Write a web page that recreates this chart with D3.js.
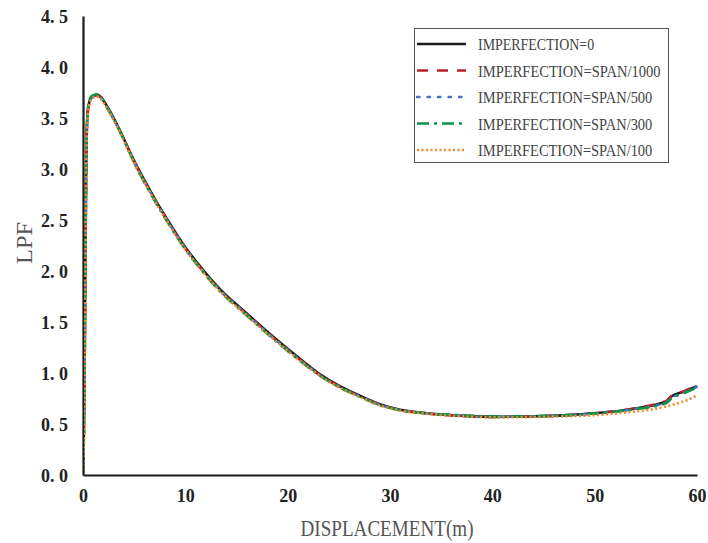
<!DOCTYPE html>
<html>
<head>
<meta charset="utf-8">
<script src="https://cdn.jsdelivr.net/npm/d3@7"></script>
<style>
  html, body { margin: 0; padding: 0; background: #fff; }
  svg { display: block; }
</style>
</head>
<body>
<svg id="chart" width="708" height="543"></svg>
<script>
// Load-proportionality factor vs. displacement for five imperfection levels
const seriesNames = [
  "IMPERFECTION=0",
  "IMPERFECTION=SPAN/1000",
  "IMPERFECTION=SPAN/500",
  "IMPERFECTION=SPAN/300",
  "IMPERFECTION=SPAN/100"
];

// Displacement stations (m) shared by all five runs
const displacement = [0, 0.08, 0.15, 0.2, 0.25, 0.3, 0.36, 0.45, 0.6, 0.8,
  1.3, 1.8, 2.2, 3.0, 3.6, 4.3, 5.0, 6.0, 7.0, 8.2,
  9.6, 11.4, 13.4, 15.7, 18.3, 21.2, 23.2, 25.1, 27.1, 29.0,
  31.0, 33.6, 37.2, 40.4, 43.7, 47, 50.5, 52.5, 54.4, 55.4,
  56.7, 57.0, 57.5, 58.8, 60];

const lpfPerfect = [0, 0.4, 1.0, 1.6, 2.3, 2.9, 3.35, 3.55, 3.65, 3.70,
  3.73, 3.70, 3.64, 3.50, 3.38, 3.23, 3.08, 2.89, 2.71, 2.51,
  2.29, 2.05, 1.82, 1.61, 1.38, 1.14, 0.985, 0.87, 0.775, 0.695,
  0.64, 0.605, 0.58, 0.57, 0.575, 0.585, 0.61, 0.63, 0.66, 0.676,
  0.71, 0.72, 0.77, 0.82, 0.87];

const lpf1000 = [0, 0.38, 0.98, 1.58, 2.28, 2.88, 3.33, 3.54, 3.64, 3.70,
  3.72, 3.70, 3.63, 3.49, 3.37, 3.22, 3.07, 2.88, 2.70, 2.50,
  2.28, 2.04, 1.81, 1.60, 1.37, 1.13, 0.975, 0.865, 0.77, 0.69,
  0.637, 0.603, 0.58, 0.57, 0.575, 0.585, 0.61, 0.632, 0.662, 0.68,
  0.715, 0.725, 0.775, 0.825, 0.88];

const lpf500 = [0, 0.36, 0.95, 1.55, 2.25, 2.86, 3.32, 3.54, 3.64, 3.69,
  3.72, 3.69, 3.63, 3.49, 3.37, 3.22, 3.07, 2.88, 2.70, 2.50,
  2.28, 2.04, 1.81, 1.60, 1.37, 1.13, 0.975, 0.862, 0.768, 0.688,
  0.636, 0.603, 0.58, 0.571, 0.576, 0.585, 0.608, 0.628, 0.655, 0.67,
  0.70, 0.71, 0.755, 0.81, 0.865];

const lpf300 = [0, 0.35, 0.93, 1.52, 2.22, 2.84, 3.32, 3.55, 3.66, 3.71,
  3.73, 3.70, 3.63, 3.49, 3.37, 3.22, 3.06, 2.87, 2.69, 2.49,
  2.27, 2.03, 1.80, 1.59, 1.36, 1.12, 0.97, 0.858, 0.765, 0.685,
  0.635, 0.605, 0.585, 0.573, 0.576, 0.585, 0.607, 0.625, 0.65, 0.665,
  0.695, 0.705, 0.75, 0.805, 0.86];

const lpf100 = [0, 0.32, 0.9, 1.5, 2.2, 2.82, 3.30, 3.52, 3.62, 3.68,
  3.71, 3.68, 3.62, 3.48, 3.36, 3.21, 3.06, 2.87, 2.69, 2.49,
  2.27, 2.03, 1.80, 1.59, 1.36, 1.12, 0.968, 0.855, 0.762, 0.682,
  0.632, 0.60, 0.575, 0.565, 0.568, 0.575, 0.59, 0.608, 0.628, 0.64,
  0.665, 0.672, 0.685, 0.725, 0.78];

const xTicks = [0, 10, 20, 30, 40, 50, 60];
const yTicks = [0, 0.5, 1.0, 1.5, 2.0, 2.5, 3.0, 3.5, 4.0, 4.5];

const seriesColors = ["#1a1a1a", "#b81f24", "#4472c4", "#0a9447", "#f08a2c"];
const seriesDash   = [null, "11,9", "2.5,8", "12,5,3,5", "2,2.5"];

const seriesData = [lpfPerfect, lpf1000, lpf500, lpf300, lpf100]
  .map(vals => d3.zip(displacement, vals));

const svg = d3.select("#chart");
const margin = { left: 83, right: 11, top: 16, bottom: 68 };
const W = 708, H = 543;

const x = d3.scaleLinear().domain([0, 60]).range([margin.left, W - margin.right]);
const y = d3.scaleLinear().domain([0, 4.5]).range([H - margin.bottom, margin.top]);

const serif = "'Liberation Serif', 'DejaVu Serif', serif";

// Axes: plain lines, no tick marks
const xAxis = d3.axisBottom(x).tickValues(xTicks).tickSize(0).tickPadding(14)
  .tickFormat(d3.format("d"));
const yAxis = d3.axisLeft(y).tickValues(yTicks).tickSize(0).tickPadding(15)
  .tickFormat(d => d.toFixed(1).replace(".", ". "));

const gx = svg.append("g").attr("transform", `translate(0,${y(0)})`).call(xAxis);
const gy = svg.append("g").attr("transform", `translate(${x(0)},0)`).call(yAxis);

[gx, gy].forEach(g => {
  g.select(".domain").attr("stroke", "#1a1a1a").attr("stroke-width", 2.2);
  g.selectAll("text")
    .attr("font-family", serif)
    .attr("font-weight", "bold")
    .attr("font-size", 18)
    .attr("fill", "#222");
});
gy.selectAll("text").attr("dy", "0.36em");

// Curves
const line = d3.line()
  .x(d => x(d[0]))
  .y(d => y(d[1]))
  .curve(d3.curveMonotoneX);

svg.append("defs").append("clipPath").attr("id", "plotClip")
  .append("rect")
  .attr("x", x(0) + 1).attr("y", margin.top - 5)
  .attr("width", x(60) - x(0) + 4).attr("height", y(0) - margin.top + 4);

const plot = svg.append("g").attr("clip-path", "url(#plotClip)");
seriesData.forEach((data, i) => {
  plot.append("path")
    .datum(data)
    .attr("fill", "none")
    .attr("stroke", seriesColors[i])
    .attr("stroke-width", 2.6)
    .attr("stroke-dasharray", seriesDash[i])
    .attr("stroke-linecap", i === 2 ? "round" : "butt")
    .attr("d", line);
});

// Axis titles
svg.append("text")
  .attr("x", 387).attr("y", 536)
  .attr("text-anchor", "middle")
  .attr("font-family", serif)
  .attr("font-size", 24)
  .attr("fill", "#555")
  .attr("textLength", 173)
  .attr("lengthAdjust", "spacingAndGlyphs")
  .text("DISPLACEMENT(m)");

svg.append("text")
  .attr("transform", "translate(32,243) rotate(-90)")
  .attr("text-anchor", "middle")
  .attr("font-family", serif)
  .attr("font-size", 24)
  .attr("fill", "#555")
  .attr("textLength", 42)
  .attr("lengthAdjust", "spacingAndGlyphs")
  .text("LPF");

// Legend
const legend = svg.append("g");
legend.append("rect")
  .attr("x", 414.5).attr("y", 28.5)
  .attr("width", 254).attr("height", 134)
  .attr("fill", "#fff")
  .attr("stroke", "#555")
  .attr("stroke-width", 1);

seriesNames.forEach((name, i) => {
  const cy = 44 + i * 26.5;
  legend.append("line")
    .attr("x1", 417).attr("x2", 466)
    .attr("y1", cy).attr("y2", cy)
    .attr("stroke", seriesColors[i])
    .attr("stroke-width", 2.4)
    .attr("stroke-dasharray", seriesDash[i])
    .attr("stroke-linecap", i === 2 ? "round" : "butt");
  legend.append("text")
    .attr("x", 478).attr("y", cy + 6)
    .attr("font-family", serif)
    .attr("font-size", 17)
    .attr("fill", "#444")
    .attr("textLength", name.length * 8.3)
    .attr("lengthAdjust", "spacingAndGlyphs")
    .text(name);
});
</script>
</body>
</html>
